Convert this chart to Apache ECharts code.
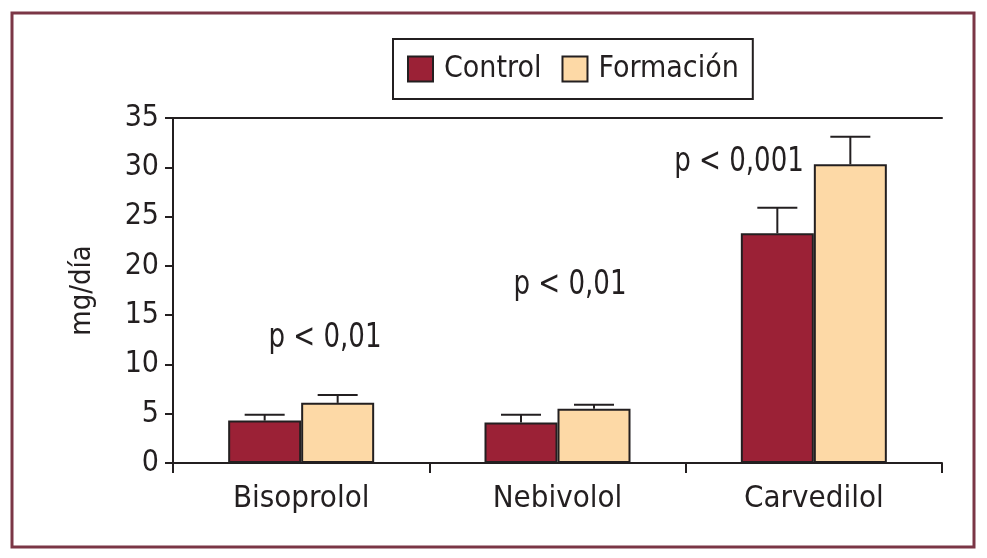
<!DOCTYPE html>
<html>
<head>
<meta charset="utf-8">
<script src="https://cdn.jsdelivr.net/npm/echarts@6/dist/echarts.min.js"></script>
<style>
html,body{margin:0;padding:0;background:#fff;}
#c{width:987px;height:558px;}
</style>
</head>
<body>
<div id="c"></div>
<script>
const categories = ['Bisoprolol', 'Nebivolol', 'Carvedilol'];
const controlValues = [4.3, 4.1, 23.3];
const controlErrors = [0.6, 0.8, 2.6];
const formacionValues = [6.1, 5.5, 30.3];
const formacionErrors = [0.8, 0.4, 2.8];
const pLabels = ['p < 0,01', 'p < 0,01', 'p < 0,001'];
const yTicks = [0, 5, 10, 15, 20, 25, 30, 35];

const FONT = "'Liberation Sans Narrow', 'DejaVu Sans Condensed', 'Arial Narrow', sans-serif";
const INK = '#231f20';
const BAR_W = 73;
const CAP_W = 40;

function errorSeries(name, values, errors, offset) {
  return {
    type: 'custom',
    name: name + ' err',
    xAxisIndex: 0, yAxisIndex: 0,
    silent: true,
    z: 5,
    data: values.map((v, i) => [i, v, v + errors[i]]),
    renderItem: function (params, api) {
      const base = api.coord([api.value(0), api.value(1)]);
      const top = api.coord([api.value(0), api.value(2)]);
      const x = base[0] + offset;
      return {
        type: 'group',
        children: [
          { type: 'line', shape: { x1: x, y1: base[1], x2: x, y2: top[1] }, style: { stroke: INK, lineWidth: 2 } },
          { type: 'line', shape: { x1: x - CAP_W / 2, y1: top[1], x2: x + CAP_W / 2, y2: top[1] }, style: { stroke: INK, lineWidth: 2 } }
        ]
      };
    }
  };
}

const chart = echarts.init(document.getElementById('c'));
const pPos = [[325, 338], [570, 285], [739, 162]];

chart.setOption({
  backgroundColor: '#fff',
  animation: false,
  textStyle: { fontFamily: FONT },
  legend: {
    data: ['Control', 'Formación'],
    left: 393, top: 39,
    padding: [15, 14, 15, 14],
    borderColor: INK, borderWidth: 2,
    itemWidth: 25, itemHeight: 25,
    itemGap: 20,
    icon: 'rect',
    textStyle: { fontFamily: FONT, fontSize: 30, color: INK, padding: [0, 0, 0, 6] }
  },
  grid: { left: 173, right: 45, top: 118, bottom: 95 },
  xAxis: [{
    type: 'category',
    data: categories,
    axisLine: { lineStyle: { color: INK, width: 2 } },
    axisTick: { show: true, length: 10, lineStyle: { color: INK, width: 2 } },
    axisLabel: { color: INK, fontSize: 31, fontFamily: FONT, margin: 20 }
  }, {
    type: 'category',
    data: categories,
    position: 'top',
    axisLine: { show: true, lineStyle: { color: INK, width: 2 } },
    axisTick: { show: false },
    axisLabel: { show: false }
  }],
  yAxis: {
    type: 'value',
    min: 0, max: 35, interval: 5,
    name: 'mg/día',
    nameLocation: 'middle',
    nameRotate: 90,
    nameGap: 76,
    nameTextStyle: { fontSize: 29, color: INK, fontFamily: FONT },
    axisLine: { show: true, lineStyle: { color: INK, width: 2 } },
    axisTick: { show: true, length: 8, lineStyle: { color: INK, width: 2 } },
    axisLabel: { color: INK, fontSize: 30, fontFamily: FONT, margin: 14,
      formatter: v => yTicks.includes(v) ? String(v) : '' },
    splitLine: { show: false }
  },
  series: [
    { name: 'Control', type: 'bar', data: controlValues, barWidth: BAR_W, barGap: '0%',
      itemStyle: { color: '#9b2136', borderColor: INK, borderWidth: 2 } },
    { name: 'Formación', type: 'bar', data: formacionValues, barWidth: BAR_W, barGap: '0%',
      itemStyle: { color: '#fdd9a6', borderColor: INK, borderWidth: 2 } },
    errorSeries('Control', controlValues, controlErrors, -BAR_W / 2),
    errorSeries('Formación', formacionValues, formacionErrors, BAR_W / 2)
  ],
  graphic: [
    { type: 'rect', shape: { x: 12, y: 13, width: 962, height: 534 }, style: { fill: 'none', stroke: '#7b3646', lineWidth: 3 }, z: 0 }
  ].concat(pLabels.map((t, i) => ({
    type: 'text', x: pPos[i][0], y: pPos[i][1], scaleY: 1.15,
    style: { text: t, fill: INK, font: '29px ' + FONT, align: 'center', verticalAlign: 'middle' }
  })))
});
</script>
</body>
</html>
